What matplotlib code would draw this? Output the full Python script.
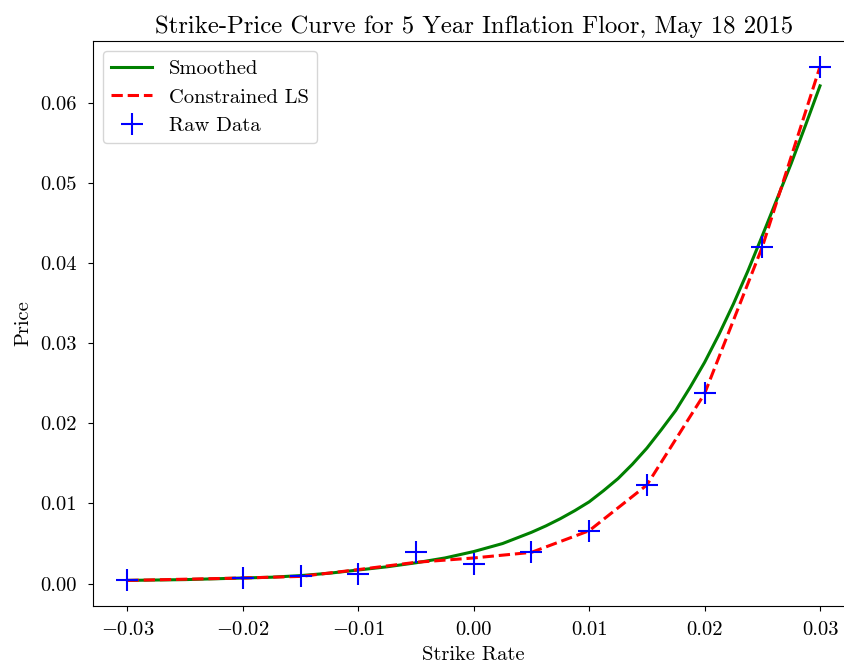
import numpy as np
import matplotlib
matplotlib.use("Agg")
import matplotlib.pyplot as plt

plt.rcParams['font.family'] = 'serif'
plt.rcParams['font.serif'] = ['cmr10']
plt.rcParams['mathtext.fontset'] = 'cm'
plt.rcParams['axes.formatter.use_mathtext'] = True
plt.rcParams['axes.unicode_minus'] = True

# raw floor quotes
strikes = [-0.03, -0.02, -0.015, -0.01, -0.005, 0.0, 0.005, 0.01, 0.015, 0.02, 0.025, 0.03]
raw_price = [0.0004, 0.00066, 0.0009, 0.0012, 0.0039, 0.0025, 0.0039, 0.0066, 0.01235, 0.0238, 0.0420, 0.0645]

# constrained least squares fit at the quoted strikes
ls_price = [0.0004, 0.0007, 0.0009, 0.00175, 0.00266, 0.0032, 0.0039, 0.0066, 0.0123, 0.0237, 0.0420, 0.0645]

# smoothed curve sampled on a strike grid (finer where it bends)
smooth_strikes = [-0.03, -0.0275, -0.025, -0.0225, -0.02, -0.0175, -0.015, -0.0125,
                  -0.01, -0.0075, -0.005, -0.0025,
                  0.0, 0.00125, 0.0025, 0.00375, 0.005, 0.00625, 0.0075, 0.00875,
                  0.01, 0.01125, 0.0125, 0.01375, 0.015, 0.01625, 0.0175, 0.01875,
                  0.02, 0.02125, 0.0225, 0.02375, 0.025, 0.02625, 0.0275, 0.02875, 0.03]
smooth_price = [0.0004, 0.00045, 0.0005, 0.0006, 0.0007, 0.0008, 0.0010, 0.0013,
                0.0017, 0.0021, 0.0026, 0.0032,
                0.0040, 0.0045, 0.0050, 0.0057, 0.0064, 0.0072, 0.0081, 0.0091,
                0.0102, 0.0116, 0.0131, 0.0149, 0.0169, 0.0192, 0.0216, 0.0245,
                0.0276, 0.0311, 0.0349, 0.0390, 0.0434, 0.0479, 0.0524, 0.0572, 0.0621]

fig = plt.figure(figsize=(8.44, 6.66), dpi=100)
ax = fig.add_axes([0.110, 0.090, 0.9026, 0.8485])

ax.plot(smooth_strikes, smooth_price, color='green', lw=2.2, label='Smoothed')
ax.plot(strikes, ls_price, color='red', ls='--', lw=2.2, label='Constrained LS')
ax.plot(strikes, raw_price, ls='none', marker='+', color='blue', ms=16, mew=1.5, label='Raw Data')

ax.set_xlim(-0.033, 0.033)
ax.set_ylim(-0.0028, 0.0677)
ax.set_xticks([-0.03, -0.02, -0.01, 0.0, 0.01, 0.02, 0.03])
ax.set_yticks([0.0, 0.01, 0.02, 0.03, 0.04, 0.05, 0.06])
ax.set_xticklabels(['$-0.03$', '$-0.02$', '$-0.01$', '0.00', '0.01', '0.02', '0.03'])
ax.set_yticklabels(['0.00', '0.01', '0.02', '0.03', '0.04', '0.05', '0.06'])
ax.tick_params(axis='y', labelsize=14.8, pad=8)
ax.tick_params(axis='x', labelsize=14.8, pad=7)

ax.set_xlabel('Strike Rate', fontsize=14.8, labelpad=5)
ax.set_ylabel('Price', fontsize=14.8, labelpad=6)
ax.set_title('Strike-Price Curve for 5 Year Inflation Floor, May 18 2015', fontsize=17.8)
ax.legend(loc='upper left', fontsize=14.8)

fig.savefig('out.png', dpi=100)
